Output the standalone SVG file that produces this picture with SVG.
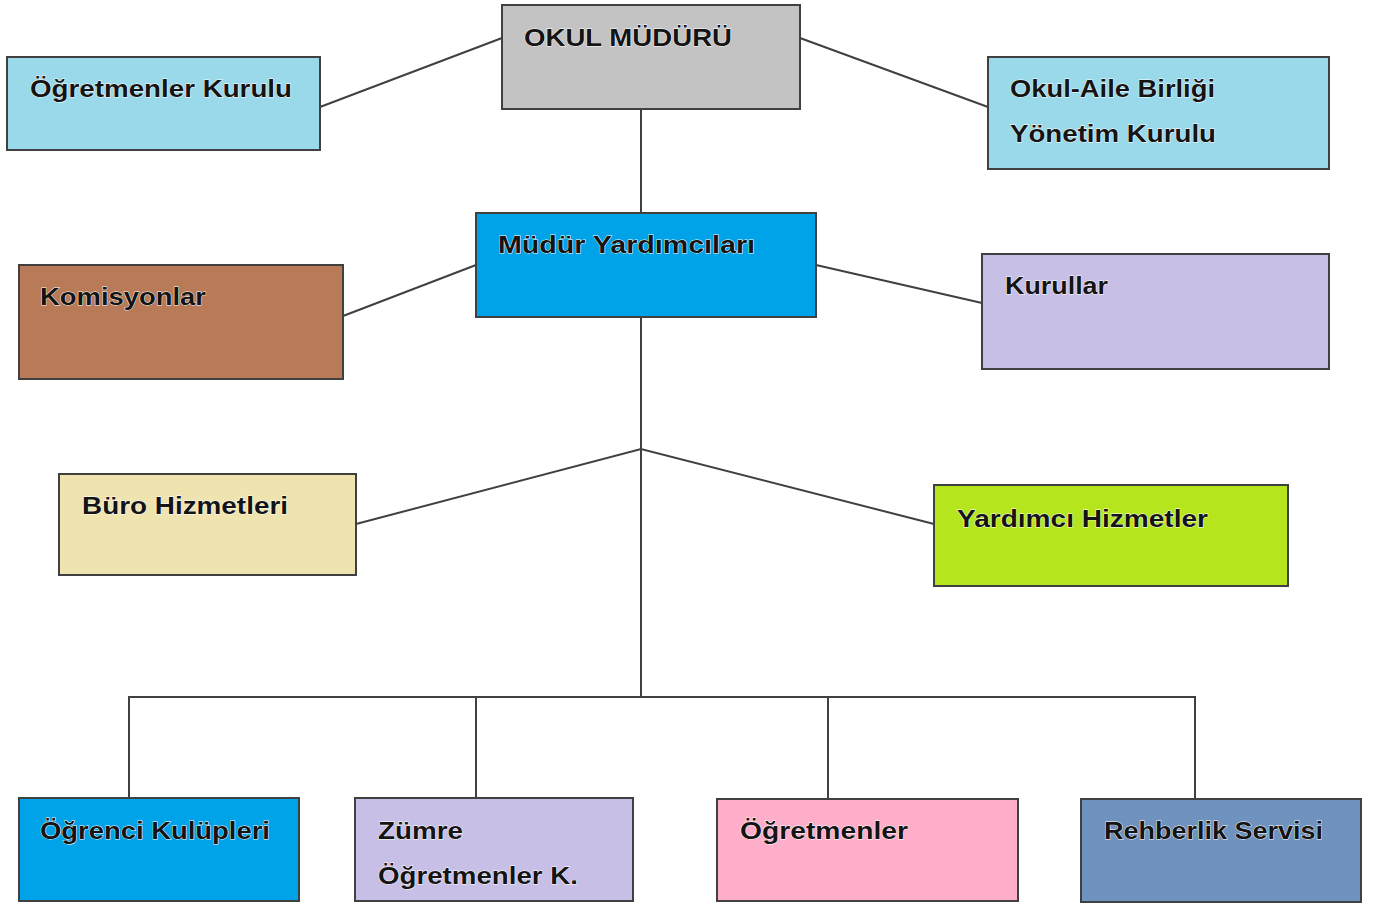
<svg xmlns="http://www.w3.org/2000/svg" width="1377" height="906" viewBox="0 0 1377 906">
<style>
.box{stroke:#404040;stroke-width:2}
.t{font-family:"Liberation Sans","DejaVu Sans",sans-serif;font-weight:bold;font-size:23px;fill:#141414;stroke:#ffffff;stroke-width:0.8;paint-order:stroke}
.c{stroke:#404040;stroke-width:2;fill:none}
</style>
<rect width="1377" height="906" fill="#ffffff"/>
<g id="connectors">
<line class="c" x1="502" y1="38" x2="320" y2="107"/>
<line class="c" x1="800" y1="38" x2="988" y2="107"/>
<line class="c" x1="641" y1="109" x2="641" y2="213"/>
<line class="c" x1="476" y1="265" x2="343" y2="316"/>
<line class="c" x1="816" y1="265" x2="982" y2="303"/>
<line class="c" x1="641" y1="304" x2="641" y2="697"/>
<polyline class="c" points="356,524 641,449 934,524"/>
<line class="c" x1="128" y1="697" x2="1196" y2="697"/>
<line class="c" x1="129" y1="697" x2="129" y2="798"/>
<line class="c" x1="476" y1="697" x2="476" y2="798"/>
<line class="c" x1="828" y1="697" x2="828" y2="799"/>
<line class="c" x1="1195" y1="697" x2="1195" y2="799"/>
</g>
<g id="okul-muduru">
<rect class="box" x="502" y="5" width="298" height="104" fill="#c3c3c3"/>
<text class="t" x="524" y="46" font-size="26" textLength="208" lengthAdjust="spacingAndGlyphs">OKUL MÜDÜRÜ</text>
</g>
<g id="ogretmenler-kurulu">
<rect class="box" x="7" y="57" width="313" height="93" fill="#99d9ea"/>
<text class="t" x="30" y="97" textLength="262" lengthAdjust="spacingAndGlyphs">Öğretmenler Kurulu</text>
</g>
<g id="okul-aile">
<rect class="box" x="988" y="57" width="341" height="112" fill="#99d9ea"/>
<text class="t" x="1010" y="97" textLength="205" lengthAdjust="spacingAndGlyphs">Okul-Aile Birliği</text>
<text class="t" x="1010" y="142" textLength="206" lengthAdjust="spacingAndGlyphs">Yönetim Kurulu</text>
</g>
<g id="mudur-yardimcilari">
<rect class="box" x="476" y="213" width="340" height="104" fill="#00a2e8"/>
<text class="t" x="498" y="253" textLength="257" lengthAdjust="spacingAndGlyphs">Müdür Yardımcıları</text>
</g>
<g id="komisyonlar">
<rect class="box" x="19" y="265" width="324" height="114" fill="#b97a57"/>
<text class="t" x="40" y="305" textLength="166" lengthAdjust="spacingAndGlyphs">Komisyonlar</text>
</g>
<g id="kurullar">
<rect class="box" x="982" y="254" width="347" height="115" fill="#c8bfe7"/>
<text class="t" x="1005" y="294" textLength="103" lengthAdjust="spacingAndGlyphs">Kurullar</text>
</g>
<g id="buro-hizmetleri">
<rect class="box" x="59" y="474" width="297" height="101" fill="#efe4b0"/>
<text class="t" x="82" y="514" textLength="206" lengthAdjust="spacingAndGlyphs">Büro Hizmetleri</text>
</g>
<g id="yardimci-hizmetler">
<rect class="box" x="934" y="485" width="354" height="101" fill="#b5e61d"/>
<text class="t" x="957" y="527" textLength="251" lengthAdjust="spacingAndGlyphs">Yardımcı Hizmetler</text>
</g>
<g id="ogrenci-kulupleri">
<rect class="box" x="19" y="798" width="280" height="103" fill="#00a2e8"/>
<text class="t" x="40" y="839" textLength="230" lengthAdjust="spacingAndGlyphs">Öğrenci Kulüpleri</text>
</g>
<g id="zumre">
<rect class="box" x="355" y="798" width="278" height="103" fill="#c8bfe7"/>
<text class="t" x="378" y="839" textLength="85" lengthAdjust="spacingAndGlyphs">Zümre</text>
<text class="t" x="378" y="884" textLength="200" lengthAdjust="spacingAndGlyphs">Öğretmenler K.</text>
</g>
<g id="ogretmenler">
<rect class="box" x="717" y="799" width="301" height="102" fill="#ffaec9"/>
<text class="t" x="740" y="839" textLength="168" lengthAdjust="spacingAndGlyphs">Öğretmenler</text>
</g>
<g id="rehberlik">
<rect class="box" x="1081" y="799" width="280" height="103" fill="#7092be"/>
<text class="t" x="1104" y="839" textLength="219" lengthAdjust="spacingAndGlyphs">Rehberlik Servisi</text>
</g>
</svg>
